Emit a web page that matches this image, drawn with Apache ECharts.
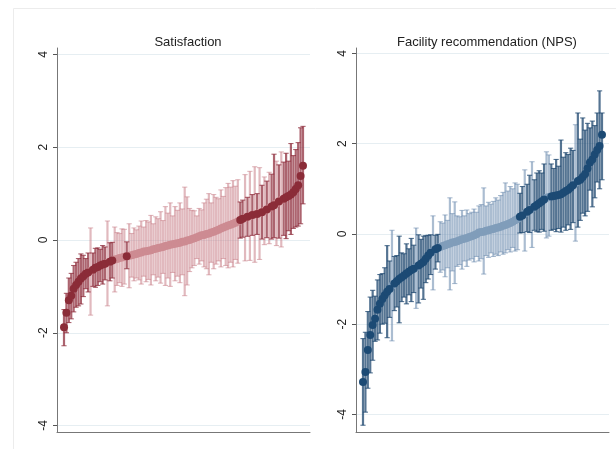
<!DOCTYPE html>
<html><head><meta charset="utf-8">
<script src="https://cdn.jsdelivr.net/npm/echarts@6/dist/echarts.min.js"></script>
<style>html,body{margin:0;padding:0;background:#fff}#c{width:616px;height:449px}</style>
</head><body><div id="c"></div>
<script>
// ---- Data ----
const titles = ['Satisfaction', 'Facility recommendation (NPS)'];
const yTicks = [-4, -2, 0, 2, 4];

const satEst = [-1.88,-1.57,-1.30,-1.20,-1.05,-0.97,-0.90,-0.83,-0.78,-0.73,
 -0.70,-0.67,-0.64,-0.60,-0.58,-0.55,-0.53,-0.51,-0.49,-0.47,
 -0.44,-0.42,-0.41,-0.39,-0.38,-0.36,-0.35,-0.34,-0.33,-0.31,
 -0.30,-0.28,-0.27,-0.25,-0.24,-0.23,-0.22,-0.20,-0.19,-0.17,
 -0.16,-0.15,-0.13,-0.12,-0.10,-0.09,-0.08,-0.07,-0.06,-0.04,
 -0.03,-0.01,0.00,0.02,0.04,0.06,0.08,0.10,0.11,0.13,
 0.14,0.16,0.18,0.20,0.22,0.25,0.27,0.29,0.31,0.33,
 0.35,0.37,0.40,0.43,0.46,0.48,0.50,0.52,0.54,0.55,
 0.56,0.58,0.60,0.63,0.66,0.69,0.72,0.75,0.79,0.83,
 0.86,0.89,0.92,0.95,0.98,1.03,1.10,1.18,1.38,1.60];
const satLo = [-2.28,-2.00,-1.78,-1.70,-1.55,-1.45,-1.42,-1.38,-1.22,-1.05,
 -1.12,-1.62,-1.00,-1.02,-0.98,-0.90,-0.95,-0.86,-1.42,-0.88,
 -0.82,-1.12,-0.98,-0.92,-1.00,-0.95,-0.62,-1.03,-0.80,-0.88,
 -0.82,-0.86,-0.95,-0.78,-0.90,-0.85,-0.97,-0.75,-0.88,-0.80,
 -0.93,-0.72,-0.98,-0.82,-1.00,-0.70,-0.88,-0.78,-0.92,-0.75,
 -1.20,-0.97,-0.68,-0.60,-0.55,-0.40,-0.52,-0.45,-0.58,-0.62,
 -0.75,-0.48,-0.62,-0.52,-0.45,-0.58,-0.40,-0.55,-0.60,-0.48,
 -0.58,-0.42,-0.50,0.04,0.06,-0.45,0.08,-0.44,0.10,-0.48,
 0.12,-0.42,0.02,-0.10,0.05,-0.08,0.02,0.05,-0.12,0.04,
 -0.15,0.10,0.03,0.20,0.12,0.25,0.28,0.30,0.35,0.78];
const satHi = [-1.50,-1.15,-0.82,-0.72,-0.55,-0.48,-0.40,-0.30,-0.33,-0.40,
 -0.28,0.26,-0.28,-0.18,-0.17,-0.20,-0.12,-0.15,0.41,-0.06,
 -0.05,0.28,0.16,0.14,0.24,0.23,-0.04,0.35,0.14,0.26,
 0.22,0.30,0.41,0.28,0.42,0.39,0.53,0.35,0.50,0.46,
 0.61,0.42,0.72,0.58,0.80,0.52,0.72,0.64,0.80,0.67,
 1.14,0.93,0.68,0.64,0.63,0.52,0.68,0.65,0.80,0.88,
 1.00,0.80,0.98,0.92,0.89,1.08,0.94,1.13,1.22,1.14,
 1.28,1.16,1.30,0.82,0.86,1.41,0.92,1.48,0.98,1.58,
 1.00,1.56,1.18,1.36,1.27,1.46,1.42,1.85,1.70,1.62,
 1.90,1.68,1.87,1.70,2.08,1.82,1.95,2.10,2.42,2.45];

const npsEst = [-3.28,-3.06,-2.57,-2.24,-2.02,-1.88,-1.68,-1.55,-1.44,-1.36,
 -1.28,-1.22,-1.15,-1.10,-1.05,-1.00,-0.96,-0.92,-0.88,-0.84,
 -0.80,-0.77,-0.74,-0.70,-0.66,-0.62,-0.55,-0.48,-0.42,-0.38,
 -0.34,-0.31,-0.29,-0.27,-0.25,-0.23,-0.21,-0.19,-0.18,-0.16,
 -0.14,-0.12,-0.11,-0.09,-0.07,-0.05,-0.03,-0.01,0.03,0.04,
 0.05,0.07,0.08,0.10,0.11,0.13,0.14,0.16,0.18,0.20,
 0.22,0.24,0.27,0.30,0.33,0.38,0.41,0.45,0.49,0.53,
 0.57,0.60,0.64,0.68,0.72,0.76,0.80,0.82,0.83,0.84,
 0.85,0.86,0.88,0.91,0.95,0.98,1.03,1.08,1.13,1.17,
 1.20,1.26,1.33,1.45,1.58,1.65,1.76,1.86,1.95,2.20];
const npsLo = [-4.24,-3.95,-3.42,-3.08,-2.80,-2.38,-2.35,-2.20,-2.00,-1.98,
 -2.30,-1.85,-2.37,-1.70,-1.62,-1.97,-1.50,-1.40,-1.55,-1.35,
 -1.50,-1.30,-1.65,-1.53,-1.20,-1.45,-1.08,-1.00,-0.90,-1.24,
 -0.78,-0.62,-0.85,-0.80,-0.95,-0.75,-1.24,-0.82,-1.10,-0.72,
 -0.68,-0.78,-0.60,-0.72,-0.58,-0.55,-0.62,-0.50,-0.60,-0.55,
 -0.89,-0.48,-0.52,-0.42,-0.50,-0.45,-0.48,-0.40,-0.45,-0.42,
 -0.35,-0.40,-0.30,-0.38,-0.35,0.02,0.03,-0.38,0.05,0.03,
 -0.30,0.08,0.05,0.04,0.10,0.06,-0.09,-0.05,0.08,0.10,
 0.05,0.12,0.04,0.15,0.08,0.20,0.10,0.25,-0.16,0.15,
 0.30,0.46,0.40,0.50,0.97,0.60,0.80,1.15,1.00,1.20];
const npsHi = [-2.32,-2.18,-1.72,-1.40,-1.25,-1.38,-1.02,-0.90,-0.88,-0.75,
 -0.26,-0.60,0.08,-0.50,-0.48,-0.05,-0.42,-0.44,-0.22,-0.33,
 -0.10,-0.25,0.13,-0.02,-0.12,-0.05,-0.04,-0.03,-0.02,0.40,
 -0.03,-0.01,0.27,0.24,0.42,0.30,0.80,0.45,0.71,0.40,
 0.38,0.52,0.40,0.53,0.45,0.48,0.55,0.48,0.62,0.65,
 1.02,0.62,0.70,0.66,0.72,0.80,0.75,0.85,0.92,1.13,
 0.95,1.05,1.00,1.13,1.10,0.90,1.05,1.42,1.10,1.30,
 1.60,1.20,1.35,1.40,1.35,1.55,1.82,1.75,1.55,1.45,
 1.65,1.50,2.08,1.70,1.80,1.76,1.90,1.85,2.42,2.68,
 2.10,2.57,2.30,2.45,2.35,2.50,2.40,2.68,3.17,2.68];

// ---- Styles ----
const panels = [
  {est: satEst, lo: satLo, hi: satHi, yMin: -4.14, yMax: 4.14, left: 57, titleX: 183,
   dark: '#8b2c38', darkBar: 'rgba(140,40,55,0.72)', light: '#cd8b92', lightBar: 'rgba(200,128,136,0.55)'},
  {est: npsEst, lo: npsLo, hi: npsHi, yMin: -4.39, yMax: 4.12, left: 356, titleX: 482,
   dark: '#1c4a74', darkBar: 'rgba(28,70,110,0.75)', light: '#809dba', lightBar: 'rgba(110,142,176,0.58)'}
];

const chart = echarts.init(document.getElementById('c'), null, {renderer: 'canvas'});
const grids = [], xAxes = [], yAxes = [], series = [], titleOpts = [];

function errRender(color) {
  return function (params, api) {
    const x = api.value(0), lo = api.value(1), hi = api.value(2);
    const a = api.coord([x, lo]), b = api.coord([x, hi]);
    const hw = 2.6;
    const cap = {stroke: color, lineWidth: 1.1};
    return {type: 'group', children: [
      {type: 'line', shape: {x1: a[0], y1: a[1], x2: b[0], y2: b[1]}, style: {stroke: color, lineWidth: 2.2}},
      {type: 'line', shape: {x1: a[0] - hw, y1: a[1], x2: a[0] + hw, y2: a[1]}, style: cap},
      {type: 'line', shape: {x1: b[0] - hw, y1: b[1], x2: b[0] + hw, y2: b[1]}, style: cap}
    ]};
  };
}

panels.forEach((p, k) => {
  grids.push({left: p.left, top: 48, width: 253, height: 384, containLabel: false});
  titleOpts.push({text: titles[k], left: p.titleX, top: 31, textAlign: 'center',
    textStyle: {fontFamily: 'Liberation Sans, Arial, sans-serif', fontSize: 13, fontWeight: 'normal', color: '#222'}});
  xAxes.push({gridIndex: k, type: 'value', min: -2.9, max: 101.9,
    axisLine: {show: true, onZero: false, lineStyle: {color: '#777', width: 1}}, axisTick: {show: false},
    axisLabel: {show: false}, splitLine: {show: false}});
  yAxes.push({gridIndex: k, type: 'value', min: p.yMin, max: p.yMax,
    axisLine: {show: true, onZero: false, lineStyle: {color: '#777', width: 1}},
    axisTick: {show: true, length: 4, customValues: yTicks, lineStyle: {color: '#555'}},
    axisLabel: {show: true, customValues: yTicks, rotate: 90, margin: 7,
      fontFamily: 'Liberation Sans, Arial, sans-serif', fontSize: 12, color: '#222'},
    splitLine: {show: false}});

  const sigBars = [], nsBars = [], sigPts = [], nsPts = [];
  p.est.forEach((v, i) => {
    const sig = p.lo[i] > 0 || p.hi[i] < 0;
    (sig ? sigBars : nsBars).push([i, p.lo[i], p.hi[i]]);
    (sig ? sigPts : nsPts).push([i, v]);
  });
  series.push({type: 'scatter', xAxisIndex: k, yAxisIndex: k, data: [], silent: true, z: 0,
    markLine: {silent: true, symbol: 'none', label: {show: false}, animation: false, z: 0,
      lineStyle: {color: '#e6eef2', width: 1, type: 'solid'},
      data: yTicks.map(t => ({yAxis: t}))}});
  series.push({type: 'custom', xAxisIndex: k, yAxisIndex: k, data: nsBars,
    renderItem: errRender(p.lightBar), encode: {x: 0, y: [1, 2]}, silent: true, z: 2});
  series.push({type: 'custom', xAxisIndex: k, yAxisIndex: k, data: sigBars,
    renderItem: errRender(p.darkBar), encode: {x: 0, y: [1, 2]}, silent: true, z: 3});
  series.push({type: 'scatter', xAxisIndex: k, yAxisIndex: k, data: nsPts, symbolSize: 8,
    itemStyle: {color: p.light, opacity: 1}, silent: true, z: 4});
  series.push({type: 'scatter', xAxisIndex: k, yAxisIndex: k, data: sigPts, symbolSize: 8,
    itemStyle: {color: p.dark, opacity: 1}, silent: true, z: 5});
});

chart.setOption({
  animation: false,
  backgroundColor: '#fff',
  title: titleOpts,
  grid: grids, xAxis: xAxes, yAxis: yAxes, series: series,
  graphic: [{type: 'rect', shape: {x: 13.5, y: 8.5, width: 640, height: 470},
    style: {fill: 'none', stroke: '#ececec', lineWidth: 1}, silent: true, z: -10}]
});
</script></body></html>
